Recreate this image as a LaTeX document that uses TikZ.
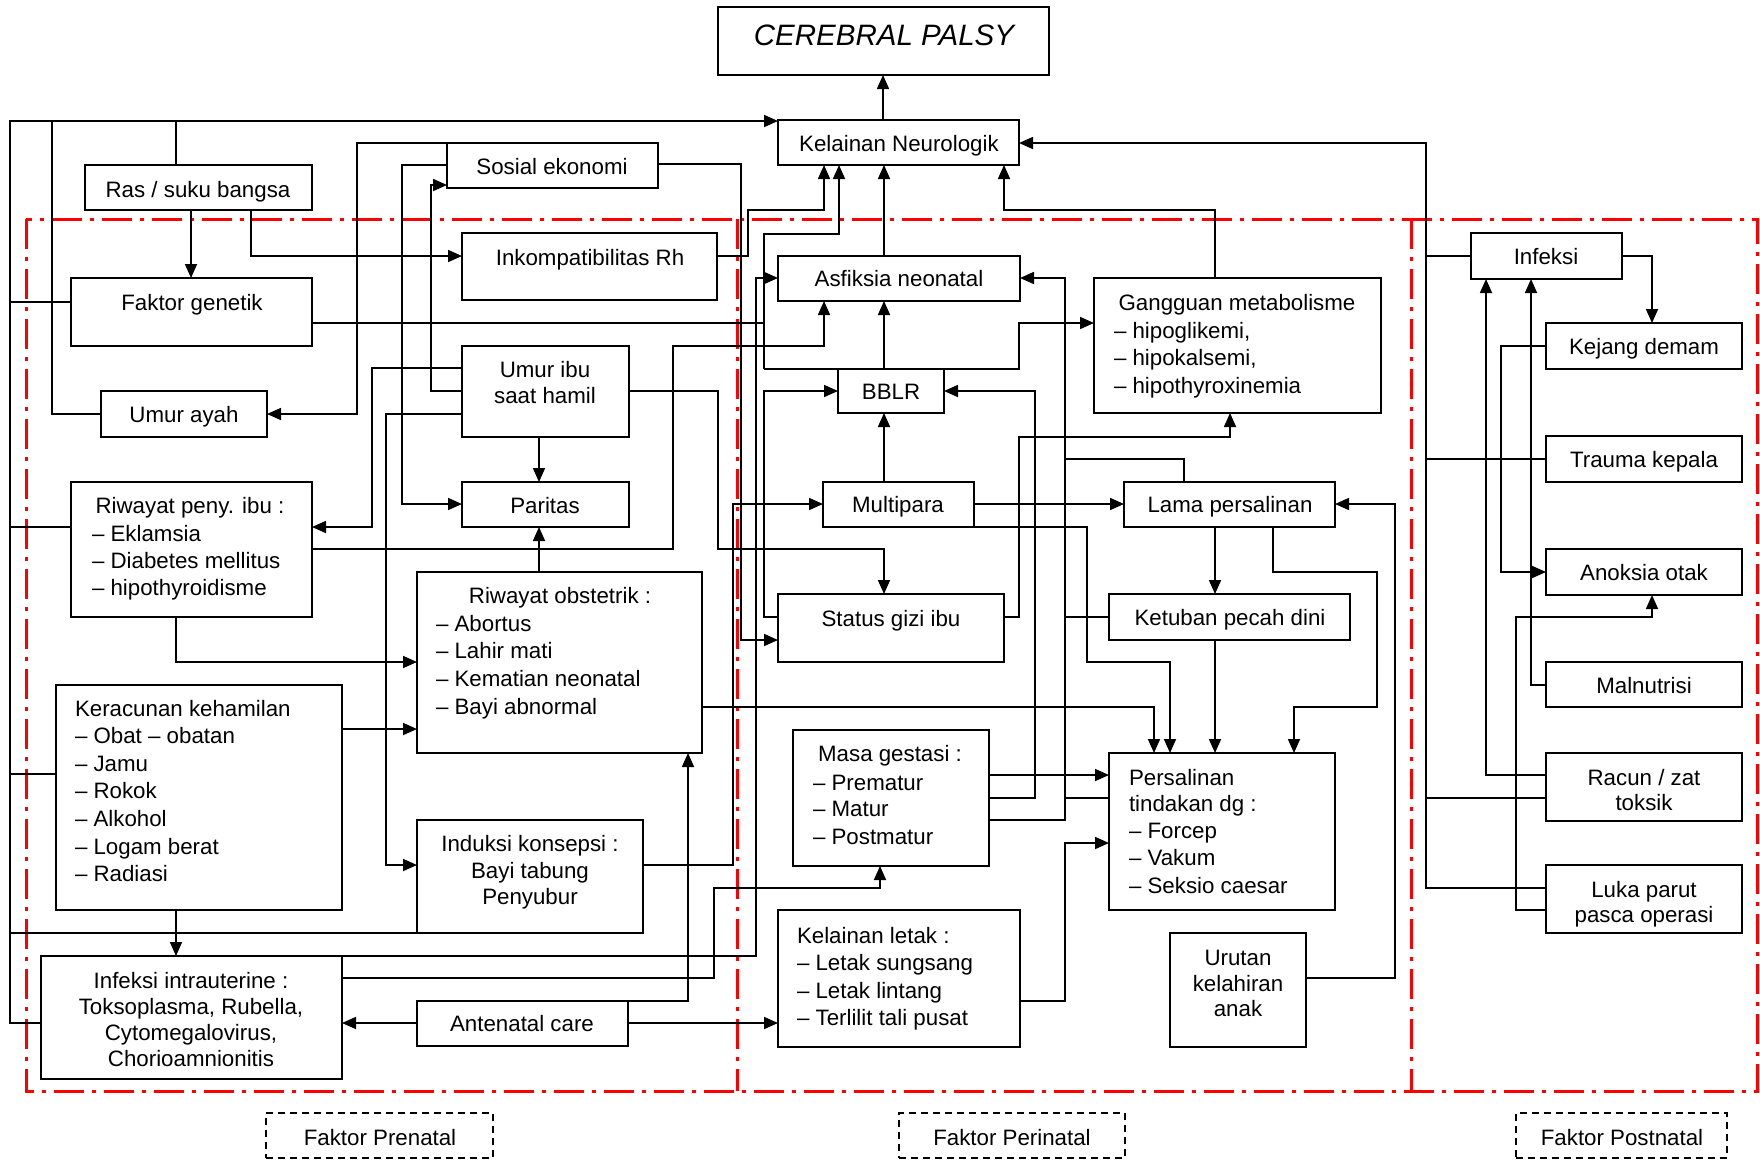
\documentclass[tikz,border=0pt]{standalone}
\usepackage{fontspec}
\setmainfont{Liberation Sans}
\usetikzlibrary{arrows.meta}
\newcommand{\bx}[6][bx]{\node[#1, minimum width={(#5)-(#3)}, minimum height={(#6)-(#4)}] (#2) at ({((#3)+(#5))/2},{((#4)+(#6))/2}) {};}
\begin{document}
\begin{tikzpicture}[x=1pt,y=-1pt,
  bx/.style={draw, fill=white, line width=1.7pt, inner sep=0pt, outer sep=0pt},
  fk/.style={bx, dash pattern=on 7pt off 5pt},
  ln/.style={line width=1.7pt},
  arr/.style={ln, -{Triangle[length=14pt,width=12pt]}},
  txt/.style={inner sep=0pt, outer sep=0pt, font=\fontsize{22.3}{27.5}\selectfont},
  tc/.style={txt, anchor=base},
  tl/.style={txt, anchor=base west},
  zone/.style={draw=red, line width=3pt, dash pattern=on 30pt off 8pt on 4pt off 8pt}
]
\useasboundingbox (0,0) rectangle (1760,1160);
% zones
\draw[zone] (26,219) rectangle (1757,1091);
\draw[zone] (737,219) -- (737,1091);
\draw[zone] (1411,219) -- (1411,1091);
% boxes
\bx{CP}{718}{7}{1049}{75}
\bx{KN}{778}{120}{1019}{165}
\bx{RS}{85}{165}{312}{210}
\bx{SE}{447}{143}{658}{188}
\bx{IR}{462}{233}{717}{300}
\bx{FG}{71}{278}{312}{346}
\bx{UA}{101}{391}{267}{437}
\bx{UI}{462}{346}{629}{437}
\bx{PA}{462}{482}{629}{527}
\bx{RPI}{71}{482}{312}{617}
\bx{RO}{417}{572}{702}{753}
\bx{KK}{56}{685}{342}{910}
\bx{IK}{417}{820}{643}{933}
\bx{IIU}{41}{956}{342}{1079}
\bx{AC}{417}{1001}{628}{1046}
\bx{AN}{778}{256}{1020}{301}
\bx{GM}{1094}{278}{1381}{413}
\bx{BB}{838}{369}{944}{413}
\bx{MP}{823}{482}{974}{527}
\bx{LP}{1124}{482}{1335}{527}
\bx{SG}{778}{594}{1004}{662}
\bx{KP}{1109}{594}{1350}{640}
\bx{MG}{793}{730}{989}{866}
\bx{PT}{1109}{753}{1335}{910}
\bx{KL}{778}{910}{1020}{1047}
\bx{UK}{1170}{933}{1306}{1047}
\bx{INF}{1471}{233}{1622}{279}
\bx{KD}{1546}{323}{1742}{369}
\bx{TK}{1546}{436}{1742}{482}
\bx{AO}{1546}{549}{1742}{595}
\bx{MN}{1546}{662}{1742}{707}
\bx{RZ}{1546}{753}{1742}{821}
\bx{LPO}{1546}{865}{1742}{933}
\bx[fk]{FPre}{266}{1113}{493}{1158}
\bx[fk]{FPeri}{899}{1113}{1125}{1158}
\bx[fk]{FPost}{1516}{1113}{1727}{1158}
% texts
\node[tc, font=\fontsize{29.5}{34}\selectfont\itshape] (tCP) at (884,45) {CEREBRAL PALSY};
\node[tc] (tKN) at (899,151) {Kelainan Neurologik};
\node[tc] (tRS) at (198,197) {Ras / suku bangsa};
\node[tc] (tSE) at (552,174) {Sosial ekonomi};
\node[tc] (tIR) at (590,265) {Inkompatibilitas Rh};
\node[tc] (tFG) at (192,310) {Faktor genetik};
\node[tc] (tUA) at (184,422) {Umur ayah};
\node[tc] (tUI1) at (545,377) {Umur ibu};
\node[tc] (tUI2) at (545,403) {saat hamil};
\node[tc] (tPA) at (545,513) {Paritas};
\node[tc] (tRPI) at (190,513) {Riwayat peny. ibu :};
\node[tl] (tRPI1) at (92,541) {– Eklamsia};
\node[tl] (tRPI2) at (92,568) {– Diabetes mellitus};
\node[tl] (tRPI3) at (92,595) {– hipothyroidisme};
\node[tc] (tRO) at (560,603) {Riwayat obstetrik :};
\node[tl] (tRO1) at (436,631) {– Abortus};
\node[tl] (tRO2) at (436,658) {– Lahir mati};
\node[tl] (tRO3) at (436,686) {– Kematian neonatal};
\node[tl] (tRO4) at (436,714) {– Bayi abnormal};
\node[tl] (tKK) at (75,716) {Keracunan kehamilan};
\node[tl] (tKK1) at (75,743) {– Obat – obatan};
\node[tl] (tKK2) at (75,771) {– Jamu};
\node[tl] (tKK3) at (75,798) {– Rokok};
\node[tl] (tKK4) at (75,826) {– Alkohol};
\node[tl] (tKK5) at (75,854) {– Logam berat};
\node[tl] (tKK6) at (75,881) {– Radiasi};
\node[tc] (tIK1) at (530,851) {Induksi konsepsi :};
\node[tc] (tIK2) at (530,878) {Bayi tabung};
\node[tc] (tIK3) at (530,904) {Penyubur};
\node[tc] (tIIU1) at (191,988) {Infeksi intrauterine :};
\node[tc] (tIIU2) at (191,1014) {Toksoplasma, Rubella,};
\node[tc] (tIIU3) at (191,1040) {Cytomegalovirus,};
\node[tc] (tIIU4) at (191,1066) {Chorioamnionitis};
\node[tc] (tAC) at (522,1031) {Antenatal care};
\node[tc] (tFPre) at (380,1145) {Faktor Prenatal};
\node[tc] (tAN) at (899,286) {Asfiksia neonatal};
\node[tc] (tGM) at (1237,310) {Gangguan metabolisme};
\node[tl] (tGM1) at (1114,338) {– hipoglikemi,};
\node[tl] (tGM2) at (1114,365) {– hipokalsemi,};
\node[tl] (tGM3) at (1114,393) {– hipothyroxinemia};
\node[tc] (tBB) at (891,399) {BBLR};
\node[tc] (tMP) at (898,512) {Multipara};
\node[tc] (tLP) at (1230,512) {Lama persalinan};
\node[tc] (tSG) at (891,626) {Status gizi ibu};
\node[tc] (tKP) at (1230,625) {Ketuban pecah dini};
\node[tc] (tMG) at (890,761) {Masa gestasi :};
\node[tl] (tMG1) at (813,790) {– Prematur};
\node[tl] (tMG2) at (813,816) {– Matur};
\node[tl] (tMG3) at (813,844) {– Postmatur};
\node[tl] (tPT1) at (1129,785) {Persalinan};
\node[tl] (tPT2) at (1129,811) {tindakan dg :};
\node[tl] (tPT3) at (1129,838) {– Forcep};
\node[tl] (tPT4) at (1129,865) {– Vakum};
\node[tl] (tPT5) at (1129,893) {– Seksio caesar};
\node[tl] (tKL) at (797,943) {Kelainan letak :};
\node[tl] (tKL1) at (797,970) {– Letak sungsang};
\node[tl] (tKL2) at (797,998) {– Letak lintang};
\node[tl] (tKL3) at (797,1025) {– Terlilit tali pusat};
\node[tc] (tUK1) at (1238,965) {Urutan};
\node[tc] (tUK2) at (1238,991) {kelahiran};
\node[tc] (tUK3) at (1238,1016) {anak};
\node[tc] (tFPeri) at (1012,1145) {Faktor Perinatal};
\node[tc] (tINF) at (1546,264) {Infeksi};
\node[tc] (tKD) at (1644,354) {Kejang demam};
\node[tc] (tTK) at (1644,467) {Trauma kepala};
\node[tc] (tAO) at (1644,580) {Anoksia otak};
\node[tc] (tMN) at (1644,693) {Malnutrisi};
\node[tc] (tRZ1) at (1644,785) {Racun / zat};
\node[tc] (tRZ2) at (1644,810) {toksik};
\node[tc] (tLPO1) at (1644,897) {Luka parut};
\node[tc] (tLPO2) at (1644,922) {pasca operasi};
\node[tc] (tFPost) at (1622,1145) {Faktor Postnatal};
% connectors
\draw[arr] (883,0 |- KN.north) -- (883,0 |- CP.south);
\draw[arr] (IIU.west |- 0,1023) -- (10,1023) -- (10,121) -- (KN.west |- 0,121);
\draw[ln] (10,302) -- (FG.west |- 0,302);
\draw[ln] (10,527) -- (RPI.west |- 0,527);
\draw[ln] (10,774) -- (KK.west |- 0,774);
\draw[ln] (10,933) -- (IK.south west);
\draw[ln] (52,121) -- (52,414) -- (UA.west |- 0,414);
\draw[ln] (176,121) -- (176,0 |- RS.north);
\draw[arr] (191,0 |- RS.south) -- (191,0 |- FG.north);
\draw[arr] (251,0 |- RS.south) -- (251,256) -- (IR.west |- 0,256);
\draw[arr] (SE.north west) -- (357,143) -- (357,414) -- (UA.east |- 0,414);
\draw[arr] (SE.west |- 0,165) -- (402,165) -- (402,504) -- (PA.west |- 0,504);
\draw[arr] (UI.west |- 0,391) -- (431,391) -- (431,185) -- (SE.west |- 0,185);
\draw[arr] (UI.west |- 0,368) -- (372,368) -- (372,527) -- (RPI.east |- 0,527);
\draw[arr] (UI.west |- 0,414) -- (386,414) -- (386,865) -- (IK.west |- 0,865);
\draw[arr] (539,0 |- UI.south) -- (539,0 |- PA.north);
\draw[arr] (UI.east |- 0,391) -- (718,391) -- (718,549) -- (884,549) -- (884,0 |- SG.north);
\draw[arr] (RPI.east |- 0,549) -- (673,549) -- (673,346) -- (824,346) -- (824,0 |- AN.south);
\draw[arr] (176,0 |- RPI.south) -- (176,662) -- (RO.west |- 0,662);
\draw[arr] (KK.east |- 0,729) -- (RO.west |- 0,729);
\draw[arr] (176,0 |- KK.south) -- (176,0 |- IIU.north);
\draw[arr] (539,0 |- RO.north) -- (539,0 |- PA.south);
\draw[arr] (RO.east |- 0,707) -- (1154,707) -- (1154,0 |- PT.north);
\draw[arr] (AC.west |- 0,1023) -- (IIU.east |- 0,1023);
\draw[arr] (AC.east |- 0,1023) -- (KL.west |- 0,1023);
\draw[arr] (AC.north east) -- (688,1001) -- (688,0 |- RO.south);
\draw[arr] (IIU.north east) -- (756,956) -- (756,278) -- (AN.west |- 0,278);
\draw[arr] (IIU.east |- 0,978) -- (714,978) -- (714,888) -- (880,888) -- (880,0 |- MG.south);
\draw[arr] (IK.east |- 0,865) -- (733,865) -- (733,504) -- (MP.west |- 0,504);
\draw[arr] (IR.east |- 0,256) -- (748,256) -- (748,210) -- (824,210) -- (824,0 |- KN.south);
\draw[arr] (SE.east |- 0,164) -- (741,164) -- (741,640) -- (SG.west |- 0,640);
\draw[ln] (FG.east |- 0,323) -- (764,323);
\draw[arr] (764,369) -- (764,234) -- (839,234) -- (839,0 |- KN.south);
\draw[arr] (764,369) -- (1019,369) -- (1019,323) -- (GM.west |- 0,323);
\draw[arr] (SG.west |- 0,617) -- (764,617) -- (764,391) -- (BB.west |- 0,391);
\draw[arr] (SG.east |- 0,617) -- (1019,617) -- (1019,437) -- (1230,437) -- (1230,0 |- GM.south);
\draw[arr] (884,0 |- BB.north) -- (884,0 |- AN.south);
\draw[arr] (884,0 |- AN.north) -- (884,0 |- KN.south);
\draw[arr] (884,0 |- MP.north) -- (884,0 |- BB.south);
\draw[arr] (MG.east |- 0,798) -- (1035,798) -- (1035,391) -- (BB.east |- 0,391);
\draw[arr] (MG.east |- 0,820) -- (1065,820) -- (1065,278) -- (AN.east |- 0,278);
\draw[ln] (1184,0 |- LP.north) -- (1184,459) -- (1065,459);
\draw[ln] (KP.west |- 0,617) -- (1065,617);
\draw[ln] (PT.west |- 0,798) -- (1065,798);
\draw[arr] (1215,0 |- GM.north) -- (1215,210) -- (1004,210) -- (1004,0 |- KN.south);
\draw[arr] (MP.east |- 0,504) -- (LP.west |- 0,504);
\draw[arr] (963,0 |- MP.south) -- (1087,527) -- (1087,662) -- (1170,662) -- (1170,0 |- PT.north);
\draw[arr] (1215,0 |- LP.south) -- (1215,0 |- KP.north);
\draw[arr] (1215,0 |- KP.south) -- (1215,0 |- PT.north);
\draw[arr] (1273,0 |- LP.south) -- (1273,572) -- (1377,572) -- (1377,707) -- (1294,707) -- (1294,0 |- PT.north);
\draw[arr] (MG.east |- 0,775) -- (PT.west |- 0,775);
\draw[arr] (KL.east |- 0,1001) -- (1065,1001) -- (1065,843) -- (PT.west |- 0,843);
\draw[arr] (UK.east |- 0,978) -- (1395,978) -- (1395,504) -- (LP.east |- 0,504);
\draw[arr] (LPO.west |- 0,888) -- (1426,888) -- (1426,143) -- (KN.east |- 0,143);
\draw[ln] (1426,256) -- (INF.west |- 0,256);
\draw[ln] (1426,459) -- (TK.west |- 0,459);
\draw[ln] (1426,798) -- (RZ.west |- 0,798);
\draw[arr] (INF.east |- 0,256) -- (1652,256) -- (1652,0 |- KD.north);
\draw[arr] (KD.west |- 0,346) -- (1501,346) -- (1501,572) -- (AO.west |- 0,572);
\draw[arr] (RZ.west |- 0,775) -- (1486,775) -- (1486,0 |- INF.south);
\draw[arr] (MN.west |- 0,685) -- (1531,685) -- (1531,0 |- INF.south);
\draw[arr] (LPO.west |- 0,910) -- (1516,910) -- (1516,617) -- (1652,617) -- (1652,0 |- AO.south);
\end{tikzpicture}
\end{document}
